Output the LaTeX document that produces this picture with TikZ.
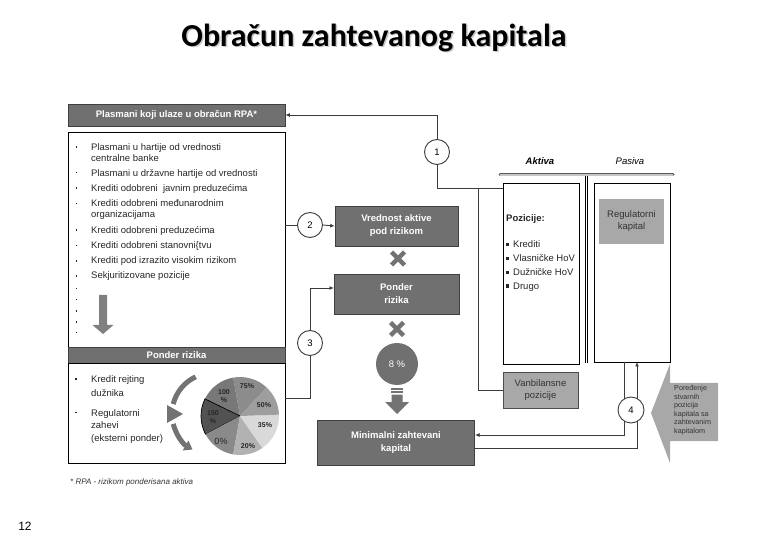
\documentclass[tikz,border=0pt]{standalone}
\usepackage{fontspec}
\setmainfont{Liberation Sans}
\newfontfamily\titlefont{Carlito}
\usetikzlibrary{arrows.meta}
\definecolor{dk}{HTML}{707070}
\definecolor{lt}{HTML}{A8A8A8}
\definecolor{ln}{HTML}{3C3C3C}
\definecolor{ar}{HTML}{8C8C8C}
\newcommand{\mybul}[2]{\fill[black!85] (#1-0.9,#2-0.9) rectangle (#1+0.9,#2+0.9);}
\newcommand{\sqbul}[2]{\fill[black!85] (#1-1.7,#2-1.7) rectangle (#1+1.7,#2+1.7);}
\begin{document}
\begin{tikzpicture}[x=1pt,y=-1pt,
  conn/.style={draw=ln, line width=0.9pt},
  arr/.style={-{Latex[length=4.5pt,width=4pt]}},
  darkhead/.style={draw=black!75, line width=0.6pt, fill=dk, text=white, font=\bfseries\fontsize{9.5}{11.5}\selectfont, inner sep=0pt, align=center},
  framebox/.style={draw=black, line width=0.9pt, inner sep=0pt},
  item/.style={anchor=base west, inner sep=0pt, font=\fontsize{9.5}{11}\selectfont, text=black!85},
  numc/.style={circle, draw=ln, line width=0.9pt, fill=white, minimum size=25pt, inner sep=0pt, font=\fontsize{9.5}{11}\selectfont},
  lightbox/.style={fill=lt, draw=black!70, line width=0.6pt, inner sep=0pt, align=center, font=\fontsize{9.5}{12}\selectfont, text=black!80},
  pielab/.style={font=\bfseries\fontsize{7}{8}\selectfont, text=black!85, inner sep=0pt, align=center}]
\path[use as bounding box] (0,0) rectangle (780,540);

% title and page number
\node (tshadow) [anchor=base, font=\titlefont\bfseries\fontsize{32}{36}\selectfont, text=black!22] at (375.5,48) {Obračun zahtevanog kapitala};
\node (title) [anchor=base, font=\titlefont\bfseries\fontsize{32}{36}\selectfont] at (374,46.5) {Obračun zahtevanog kapitala};
\node (pnum) [anchor=base, font=\fontsize{12}{14}\selectfont] at (25,530) {12};

% ---------------- left column
\node (h1) [darkhead, minimum width=217pt, minimum height=22pt] at (176.5,115) {Plasmani koji ulaze u obračun RPA*};
\node (lst) [framebox, minimum width=217pt, minimum height=215pt] at (176.5,239.5) {};
\node (h2) [darkhead, minimum width=217pt, minimum height=16pt] at (176.5,355) {Ponder rizika};
\node (pbx) [framebox, minimum width=217pt, minimum height=100pt] at (176.5,413) {};

\node (i1a) [item] at (91,150.5) {Plasmani u hartije od vrednosti};
\node (i1b) [item] at (91,162) {centralne banke};
\node (i2) [item] at (91,176.5) {Plasmani u državne hartije od vrednosti};
\node (i3) [item] at (91,191.5) {Krediti odobreni \ javnim preduzećima};
\node (i4a) [item] at (91,207) {Krediti odobreni međunarodnim};
\node (i4b) [item] at (91,218) {organizacijama};
\node (i5) [item] at (91,233.5) {Krediti odobreni preduzećima};
\node (i6) [item] at (91,248.5) {Krediti odobreni stanovni\{tvu};
\node (i7) [item] at (91,264) {Krediti pod izrazito visokim rizikom};
\node (i8) [item] at (91,279) {Sekjuritizovane pozicije};
\foreach \yy in {147,172.5,188,203.5,230,245.5,261,276,288.5,299.5,311,322,332.5} {\mybul{76.5}{\yy}}
\fill[black!50] (99,295) -- (107,295) -- (107,325) -- (113.5,325) -- (103,334) -- (92.5,325) -- (99,325) -- cycle;

\node (p1a) [item] at (91,382) {Kredit rejting};
\node (p1b) [item] at (91,396) {dužnika};
\node (p2a) [item] at (91,416) {Regulatorni};
\node (p2b) [item] at (91,428.5) {zahevi};
\node (p2c) [item] at (91,441) {(eksterni ponder)};
\mybul{76}{379}
\mybul{76}{412.5}

% curved arrows beside the pie
\begin{scope}[shift={(213,414)}, y=1pt]
  \draw[line width=5pt, black!55] (115:41) arc[start angle=115, end angle=166, radius=41];
  \fill[black!55] (-30,0) -- (-46,9) -- (-46,-9) -- cycle;
  \draw[line width=5pt, black!55, -{Triangle[length=8pt,width=11pt]}] (194:41) arc[start angle=194, end angle=240, radius=41];
\end{scope}

% pie chart
\begin{scope}[shift={(240,416)}, y=1pt]
  \fill[black!45] (0,0) -- (47:39) arc[start angle=47, end angle=100, radius=39] -- cycle;
  \fill[black!53] (0,0) -- (100:39) arc[start angle=100, end angle=154, radius=39] -- cycle;
  \filldraw[fill=black!68, draw=black, line width=0.7pt] (0,0) -- (154:39) arc[start angle=154, end angle=208, radius=39] -- cycle;
  \fill[black!46] (0,0) -- (208:39) arc[start angle=208, end angle=260, radius=39] -- cycle;
  \fill[black!30] (0,0) -- (260:39) arc[start angle=260, end angle=305, radius=39] -- cycle;
  \fill[black!15] (0,0) -- (305:39) arc[start angle=305, end angle=362, radius=39] -- cycle;
  \fill[black!38] (0,0) -- (2:39) arc[start angle=2, end angle=47, radius=39] -- cycle;
\end{scope}
\node (s75) [pielab] at (247,386) {75\%};
\node (s100) [pielab] at (224,396) {100\\\%};
\node (s150) [pielab] at (213,417) {150\\\%};
\node (s0) [pielab, font=\fontsize{9}{10}\selectfont] at (221,441) {0\%};
\node (s20) [pielab] at (248,446) {20\%};
\node (s35) [pielab] at (265,425) {35\%};
\node (s50) [pielab] at (264,405) {50\%};

\node (fn) [anchor=base west, inner sep=0pt, font=\itshape\fontsize{8}{9}\selectfont, text=black!80] at (70,484) {* RPA - rizikom ponderisana aktiva};

% ---------------- middle column
\node (c1) [numc] at (437,152) {1};
\node (c2) [numc] at (310,225) {2};
\node (c3) [numc] at (310,343) {3};
\node (vb) [darkhead, minimum width=123pt, minimum height=40pt, font=\bfseries\fontsize{9.5}{13}\selectfont] at (396.5,226) {Vrednost aktive\\pod rizikom};
\node (pr) [darkhead, minimum width=125pt, minimum height=40pt, font=\bfseries\fontsize{9.5}{13}\selectfont] at (396.5,294) {Ponder\\rizika};
\node (p8) [circle, fill=dk, minimum size=42pt, inner sep=0pt, text=white, font=\fontsize{9.5}{11}\selectfont] at (397,364) {8 \%};
\node (mz) [darkhead, minimum width=157pt, minimum height=45pt, font=\bfseries\fontsize{9.5}{13}\selectfont] at (396,442.5) {Minimalni zahtevani\\kapital};

\draw[line width=4.5pt, black!55] (391.5,252) -- (404.5,265) (404.5,252) -- (391.5,265);
\draw[line width=4.5pt, black!55] (390.5,322.5) -- (403.5,335.5) (403.5,322.5) -- (390.5,335.5);
\fill[black!55] (391,388.5) rectangle (403,390);
\fill[black!55] (391,391.5) rectangle (403,393);
\fill[black!55] (391.5,394.5) -- (402.5,394.5) -- (402.5,402) -- (409,402) -- (397,414) -- (385,402) -- (391.5,402) -- cycle;

% ---------------- right column
\node (akl) [anchor=base, inner sep=0pt, font=\bfseries\itshape\fontsize{9.5}{11}\selectfont] at (540,165) {Aktiva};
\node (pal) [anchor=base, inner sep=0pt, font=\itshape\fontsize{9.5}{11}\selectfont] at (630,165) {Pasiva};
\draw[line width=3pt, black!65, line cap=round] (500,175) -- (673,175);
\draw[line width=1.3pt, black!22, line cap=round] (500.5,175) -- (672.5,175);
\draw[line width=0.7pt, double=white, double distance=0.8pt] (586.5,176) -- (586.5,363);

\node (ak) [framebox, minimum width=76pt, minimum height=181pt] at (541,273.5) {};
\node (pa) [framebox, minimum width=76pt, minimum height=179pt] at (632,272.5) {};
\node (rk) [lightbox, draw=none, minimum width=65pt, minimum height=45pt] at (631.5,221.5) {Regulatorni\\kapital};
\node (vn) [lightbox, minimum width=75pt, minimum height=36pt] at (540.5,390) {Vanbilansne\\pozicije};

\node (poz) [item, font=\bfseries\fontsize{9.5}{11}\selectfont] at (506,221.8) {Pozicije:};
\node (a1) [item] at (513,248) {Krediti};
\node (a2) [item] at (513,262) {Vlasničke HoV};
\node (a3) [item] at (513,276) {Dužničke HoV};
\node (a4) [item] at (513,289.5) {Drugo};
\foreach \yy in {244.5,258.5,272.5,286} {\sqbul{507.5}{\yy}}

% big grey arrow
\fill[lt] (651,413) -- (670,364) -- (670,383) -- (718,383) -- (718,441) -- (670,441) -- (670,463) -- cycle;
\node (cmp) [anchor=north west, inner sep=0pt, align=left, font=\fontsize{7.2}{8.5}\selectfont, text=black!80] at (674,385.5) {Poređenje\\stvarnih\\pozicija\\kapitala sa\\zahtevanim\\kapitalom};

% ---------------- connectors
\coordinate (j1) at (478,188);
\coordinate (akin) at (503,188);
\coordinate (prin) at (334,288);
\coordinate (pbr) at (285,398);
\coordinate (pa1) at (624,362);
\coordinate (pa2) at (637,362);
\coordinate (mz1) at (475,435);
\coordinate (mz2) at (475,448);

\draw[conn, arr] (c1.north) |- (h1.east);
\draw[conn] (c1.south) |- (akin);
\draw[conn] (j1) |- (vn.west);
\draw[conn] (c2.west) -- (c2.west -| lst.east);
\draw[conn, arr] (c2.east) -- (vb.west);
\draw[conn, arr] (c3.north) |- (prin);
\draw[conn] (c3.south) |- (pbr);
\draw[conn, arr] (pa1) |- (mz1);
\draw[conn, arr] (mz2) -| (pa2);
\node (c4) [numc, minimum size=26pt] at (631,410) {4};
\end{tikzpicture}
\end{document}
